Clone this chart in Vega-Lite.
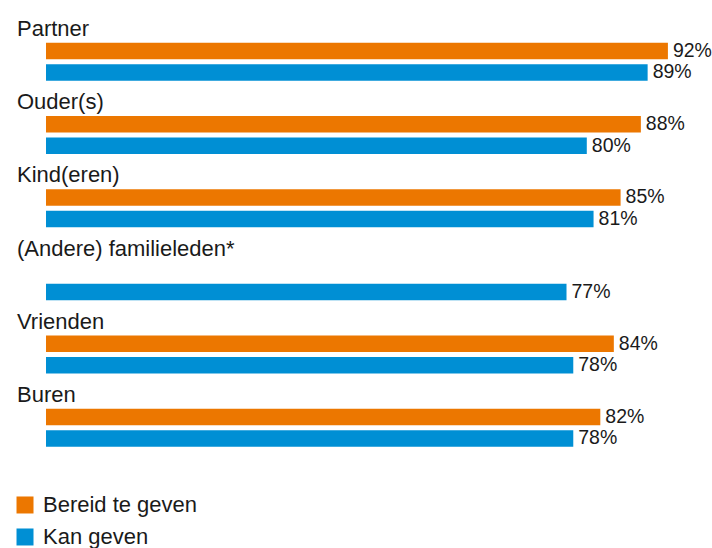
{
  "$schema": "https://vega.github.io/schema/vega-lite/v6.json",
  "autosize": "none",
  "padding": {"left": 46, "top": 17, "right": 0, "bottom": 92},
  "width": 676,
  "height": 439.2,
  "background": "white",
  "config": {"view": {"stroke": null}, "font": "Liberation Sans"},
  "data": {
    "values": [
      {"category": "Partner", "series": "Bereid te geven", "value": 0.92},
      {"category": "Partner", "series": "Kan geven", "value": 0.89},
      {"category": "Ouder(s)", "series": "Bereid te geven", "value": 0.88},
      {"category": "Ouder(s)", "series": "Kan geven", "value": 0.80},
      {"category": "Kind(eren)", "series": "Bereid te geven", "value": 0.85},
      {"category": "Kind(eren)", "series": "Kan geven", "value": 0.81},
      {"category": "(Andere) familieleden*", "series": "Kan geven", "value": 0.77},
      {"category": "Vrienden", "series": "Bereid te geven", "value": 0.84},
      {"category": "Vrienden", "series": "Kan geven", "value": 0.78},
      {"category": "Buren", "series": "Bereid te geven", "value": 0.82},
      {"category": "Buren", "series": "Kan geven", "value": 0.78}
    ]
  },
  "encoding": {
    "y": {
      "field": "category",
      "type": "nominal",
      "sort": ["Partner", "Ouder(s)", "Kind(eren)", "(Andere) familieleden*", "Vrienden", "Buren"],
      "scale": {"paddingInner": 0, "paddingOuter": 0},
      "axis": null
    }
  },
  "layer": [
    {
      "mark": {"type": "bar"},
      "encoding": {
        "x": {"field": "value", "type": "quantitative", "scale": {"domain": [0, 1], "nice": false}, "axis": null},
        "yOffset": {
          "field": "series",
          "type": "nominal",
          "sort": ["Bereid te geven", "Kan geven"],
          "scale": {"domain": ["Bereid te geven", "Kan geven"], "paddingInner": 0.2326, "paddingOuter": 0.8186, "align": 0.7315}
        },
        "color": {
          "field": "series",
          "type": "nominal",
          "scale": {"domain": ["Bereid te geven", "Kan geven"], "range": ["#EC7700", "#008FD4"]},
          "legend": {
            "title": null,
            "orient": "none",
            "legendX": -32,
            "legendY": 477,
            "symbolType": "square",
            "symbolSize": 289,
            "symbolStrokeWidth": 0,
            "labelFontSize": 22,
            "labelColor": "#1a1a1a",
            "labelOffset": 7,
            "rowPadding": 10,
            "labelFont": "Liberation Sans"
          }
        }
      }
    },
    {
      "mark": {"type": "text", "align": "left", "baseline": "middle", "dx": 5, "fontSize": 19.5, "color": "#1a1a1a"},
      "encoding": {
        "x": {"field": "value", "type": "quantitative"},
        "yOffset": {"field": "series", "type": "nominal", "sort": ["Bereid te geven", "Kan geven"]},
        "text": {"field": "value", "type": "quantitative", "format": ".0%"},
        "detail": {"field": "series"}
      }
    },
    {
      "transform": [{"filter": "datum.series === 'Kan geven'"}],
      "mark": {"type": "text", "align": "left", "baseline": "alphabetic", "dx": -29, "dy": 19, "fontSize": 22, "color": "#1a1a1a"},
      "encoding": {
        "x": {"datum": 0},
        "y": {"field": "category", "type": "nominal", "bandPosition": 0, "sort": ["Partner", "Ouder(s)", "Kind(eren)", "(Andere) familieleden*", "Vrienden", "Buren"]},
        "text": {"field": "category"}
      }
    }
  ]
}
